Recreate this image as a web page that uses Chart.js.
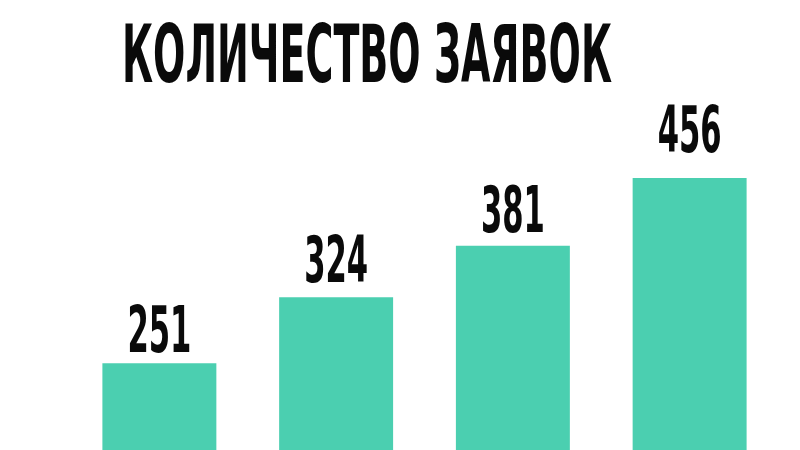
<!DOCTYPE html>
<html>
<head>
<meta charset="utf-8">
<script src="https://cdn.jsdelivr.net/npm/chart.js@4"></script>
<style>
  html, body { margin: 0; padding: 0; background: #ffffff; }
  #wrap { width: 800px; height: 450px; position: relative; }
</style>
</head>
<body>
<div id="wrap"><canvas id="chart"></canvas></div>
<script>
const titleText = 'КОЛИЧЕСТВО ЗАЯВОК';
const categories = ['1', '2', '3', '4'];
const requests = [251, 324, 381, 456];

const barColor = '#4bcfb0';
const font = '"DejaVu Sans Condensed", "DejaVu Sans", sans-serif';
// space between a bar's top and its number, per bar (as in the picture)
const labelGaps = [11, 15, 14, 26];

// draw condensed bold text squeezed to a given width
function squeezed(ctx, text, x, y, size, width) {
    ctx.save();
    ctx.font = `bold ${size}px ${font}`;
    const w = ctx.measureText(text).width;
    const sx = width / w;
    ctx.translate(x, y);
    ctx.scale(sx, 1);
    ctx.textAlign = 'center';
    ctx.textBaseline = 'alphabetic';
    ctx.fillStyle = '#0a0a0a';
    ctx.fillText(text, 0, 0);
    ctx.restore();
}

const textPlugin = {
    id: 'texts',
    afterDatasetsDraw(chart) {
        const ctx = chart.ctx;
        squeezed(ctx, titleText, 367, 82, 81, 490);
        chart.getDatasetMeta(0).data.forEach((bar, i) => {
            squeezed(ctx, String(requests[i]), bar.x, bar.y - labelGaps[i], 64, 64);
        });
    }
};

new Chart(document.getElementById('chart').getContext('2d'), {
    type: 'bar',
    data: {
        labels: categories,
        datasets: [{
            data: requests,
            backgroundColor: barColor,
            borderWidth: 0,
            categoryPercentage: 0.8,
            barPercentage: 0.806
        }]
    },
    options: {
        responsive: true,
        maintainAspectRatio: false,
        animation: false,
        layout: { padding: { left: 71, right: 22, top: 0, bottom: 0 } },
        plugins: {
            legend: { display: false },
            tooltip: { enabled: false }
        },
        scales: {
            x: { display: false },
            y: { display: false, min: 155, max: 653 }
        }
    },
    plugins: [textPlugin]
});
</script>
</body>
</html>
